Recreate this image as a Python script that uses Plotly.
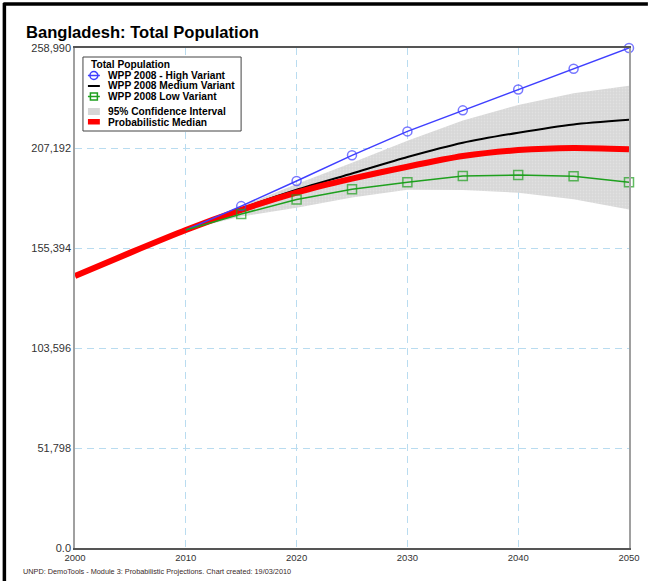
import plotly.graph_objects as go

# Bangladesh total population (thousands), WPP 2008 variants + probabilistic projection
years_median = [2000, 2005, 2010, 2015, 2020, 2025, 2030, 2035, 2040, 2045, 2050]
median = [140900, 153000, 164700, 175100, 184100, 191300, 197500, 203000, 206100, 207200, 206500]

years_proj = [2010, 2015, 2020, 2025, 2030, 2035, 2040, 2045, 2050]
high_variant = [164700, 177100, 190100, 203400, 215800, 226700, 237500, 248200, 258990]
medium_variant = [164700, 175800, 185600, 194000, 202500, 209900, 215100, 219400, 221800]
low_variant = [164700, 173000, 180500, 185800, 189400, 192700, 193200, 192500, 189500]
ci_upper = [164700, 177000, 188500, 199500, 211000, 221500, 229500, 235500, 239500]
ci_lower = [164700, 171700, 176300, 181500, 185600, 185400, 184000, 180600, 175400]

y_ticks = [0, 51798, 103596, 155394, 207192, 258990]
y_tick_labels = ["0.0", "51,798", "103,596", "155,394", "207,192", "258,990"]
x_ticks = [2000, 2010, 2020, 2030, 2040, 2050]

legend_title = "Total Population"
legend_labels = [
    "WPP 2008 - High Variant",
    "WPP 2008 Medium Variant",
    "WPP 2008 Low Variant",
    "95% Confidence Interval",
    "Probabilistic Median",
]

title_text = "Bangladesh: Total Population"
footer_text = "UNPD: DemoTools - Module 3: Probabilistic Projections. Chart created: 19/03/2010"

BLUE = "#3f3fff"
GREEN = "#1ea01e"
RED = "#ff0000"
GRAY = "#d6d6d6"
FONT = "Liberation Sans, Arial, sans-serif"

# plot area in pixels: x 75..632, y 48..548
L, R, T, B = 75, 20, 48, 33
W, H = 652, 581
PW, PH = W - L - R, H - T - B


def px_x(p):
    return (p - L) / PW


def px_y(p):
    return (T + PH - p) / PH


fig = go.Figure()

# confidence band
fig.add_trace(go.Scatter(x=years_proj, y=ci_upper, mode="lines",
                         line=dict(width=0, color=GRAY), showlegend=False,
                         hoverinfo="skip"))
fig.add_trace(go.Scatter(x=years_proj, y=ci_lower, mode="lines",
                         line=dict(width=0, color=GRAY), fill="tonexty",
                         fillcolor=GRAY,
                         fillpattern=dict(shape=".", bgcolor=GRAY, fgcolor="#ececec",
                                          size=3, solidity=0.35),
                         name=legend_labels[3], showlegend=False))

fig.add_trace(go.Scatter(x=years_proj, y=medium_variant, mode="lines",
                         line=dict(color="black", width=2, shape="spline", smoothing=0.6),
                         name=legend_labels[1], showlegend=False))

fig.add_trace(go.Scatter(x=years_median, y=median, mode="lines",
                         line=dict(color=RED, width=6, shape="spline", smoothing=0.6),
                         name=legend_labels[4], showlegend=False))

marker_sizes = [0] + [9] * (len(years_proj) - 1)
fig.add_trace(go.Scatter(x=years_proj, y=high_variant, mode="lines+markers",
                         line=dict(color=BLUE, width=1.5),
                         marker=dict(symbol="circle-open", size=marker_sizes, color=BLUE,
                                     line=dict(width=1.5)),
                         name=legend_labels[0], showlegend=False, cliponaxis=False))
fig.add_trace(go.Scatter(x=years_proj, y=low_variant, mode="lines+markers",
                         line=dict(color=GREEN, width=1.5),
                         marker=dict(symbol="square-open", size=marker_sizes, color=GREEN,
                                     line=dict(width=1.5)),
                         name=legend_labels[2], showlegend=False, cliponaxis=False))

# hand-drawn legend box, matching the compact original
shapes = [
    dict(type="rect", xref="paper", yref="paper", layer="above",
         x0=px_x(83), x1=px_x(242), y0=px_y(131), y1=px_y(57),
         line=dict(color="#444444", width=1), fillcolor="white"),
    # high variant: line + circle
    dict(type="line", xref="paper", yref="paper", layer="above",
         x0=px_x(88), x1=px_x(100), y0=px_y(75.5), y1=px_y(75.5),
         line=dict(color=BLUE, width=1.5)),
    dict(type="circle", xref="paper", yref="paper", layer="above",
         x0=px_x(90), x1=px_x(98), y0=px_y(79.5), y1=px_y(71.5),
         line=dict(color=BLUE, width=1.5)),
    # medium variant
    dict(type="line", xref="paper", yref="paper", layer="above",
         x0=px_x(88), x1=px_x(100), y0=px_y(86), y1=px_y(86),
         line=dict(color="black", width=2)),
    # low variant: line + square
    dict(type="line", xref="paper", yref="paper", layer="above",
         x0=px_x(88), x1=px_x(100), y0=px_y(96.5), y1=px_y(96.5),
         line=dict(color=GREEN, width=1.5)),
    dict(type="rect", xref="paper", yref="paper", layer="above",
         x0=px_x(90.5), x1=px_x(97.5), y0=px_y(100), y1=px_y(93),
         line=dict(color=GREEN, width=1.5)),
    # confidence interval patch
    dict(type="rect", xref="paper", yref="paper", layer="above",
         x0=px_x(88), x1=px_x(100), y0=px_y(115), y1=px_y(108),
         line=dict(width=0), fillcolor=GRAY),
    # median patch
    dict(type="rect", xref="paper", yref="paper", layer="above",
         x0=px_x(88), x1=px_x(100), y0=px_y(124.5), y1=px_y(119),
         line=dict(width=0), fillcolor=RED),
    # window frame (left and top)
    dict(type="line", xref="paper", yref="paper", layer="above",
         x0=px_x(4), x1=px_x(4), y0=px_y(3), y1=px_y(590),
         line=dict(color="black", width=3.5)),
    dict(type="line", xref="paper", yref="paper", layer="above",
         x0=px_x(3), x1=px_x(651), y0=px_y(4), y1=px_y(4),
         line=dict(color="black", width=3.5)),
]

annotations = [
    dict(text="<b>" + title_text + "</b>", xref="paper", yref="paper",
         x=px_x(24), y=px_y(33), xanchor="left", yanchor="middle", showarrow=False,
         font=dict(family=FONT, size=16.6, color="black")),
    dict(text=footer_text, xref="paper", yref="paper",
         x=px_x(21), y=px_y(571), xanchor="left", yanchor="middle", showarrow=False,
         font=dict(family=FONT, size=7.3, color="#3a2a2a")),
    dict(text="<b>" + legend_title + "</b>", xref="paper", yref="paper",
         x=px_x(89), y=px_y(64.5), xanchor="left", yanchor="middle", showarrow=False,
         font=dict(family=FONT, size=10.2, color="black")),
]
for label, ypx in zip(legend_labels, [75.5, 86, 96.5, 111.5, 122]):
    annotations.append(dict(text="<b>" + label + "</b>", xref="paper", yref="paper",
                            x=px_x(106), y=px_y(ypx), xanchor="left", yanchor="middle",
                            showarrow=False,
                            font=dict(family=FONT, size=10.2, color="black")))

fig.update_layout(
    width=W,
    height=H,
    margin=dict(l=L, r=R, t=T, b=B),
    paper_bgcolor="white",
    plot_bgcolor="white",
    showlegend=False,
    shapes=shapes,
    annotations=annotations,
    font=dict(family=FONT, color="#333333"),
)

fig.update_xaxes(
    range=[2000, 2050],
    tickvals=x_ticks,
    tickfont=dict(size=9.5, color="#333333"),
    showgrid=True,
    gridcolor="#b9dcf0",
    griddash="7px,5px",
    gridwidth=1,
    showline=True,
    linecolor="#555555",
    linewidth=1.5,
    mirror=True,
    zeroline=False,
    ticks="",
)
fig.update_yaxes(
    range=[0, 258990],
    tickvals=y_ticks,
    ticktext=y_tick_labels,
    tickfont=dict(size=11, color="#333333"),
    showgrid=True,
    gridcolor="#b9dcf0",
    griddash="7px,5px",
    gridwidth=1,
    showline=True,
    linecolor="#a0a0a0",
    linewidth=1.5,
    mirror=True,
    zeroline=False,
    ticks="",
)

# drop the page's default body margin and scrollbars so the figure sits at 0,0
fig.write_html(
    "out.html",
    config={"displayModeBar": False},
    post_script="document.body.style.margin='0';"
    "document.body.style.overflow='hidden';"
    "document.documentElement.style.overflow='hidden';",
)
